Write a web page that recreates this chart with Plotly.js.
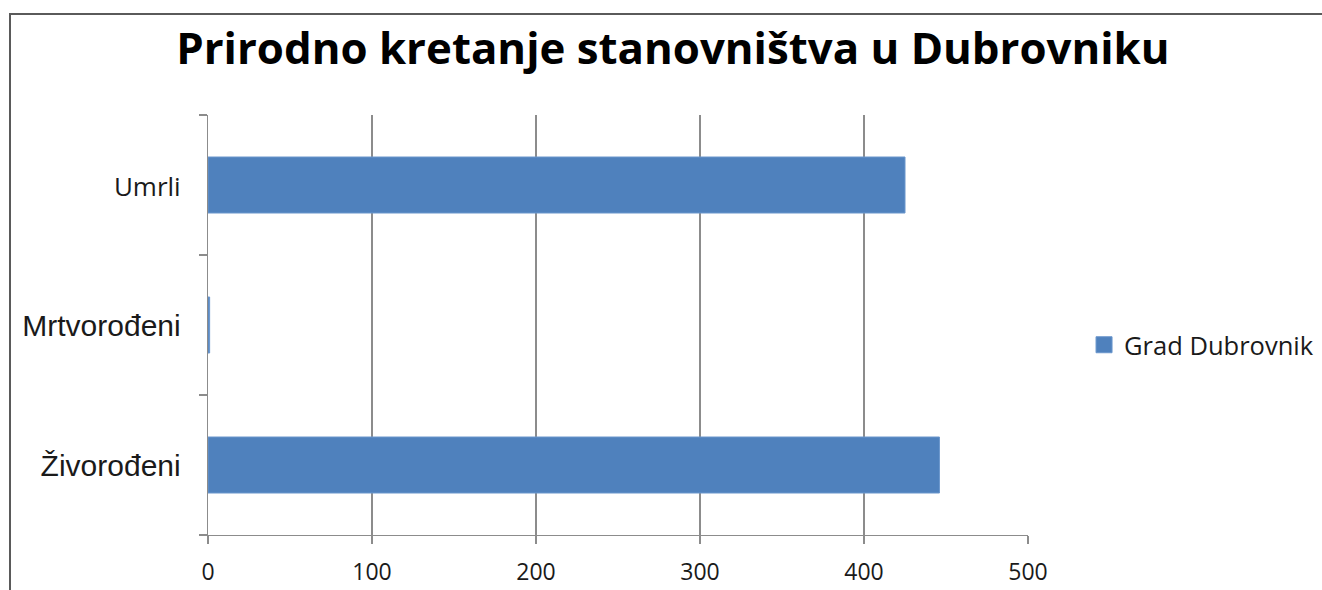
<!DOCTYPE html>
<html>
<head>
<meta charset="utf-8">
<script src="https://cdn.plot.ly/plotly-3.0.1.min.js"></script>
<style>
  html, body { margin: 0; padding: 0; background: #ffffff; }
  #chart { width: 1322px; height: 590px; position: relative; }
  #frame { position: absolute; left: 9px; top: 13px; width: 1320px; height: 620px;
           border: 2px solid #5a5a5a; box-sizing: border-box; pointer-events: none; }
</style>
</head>
<body>
<div style="position:relative;width:1322px;height:590px;overflow:hidden;">
  <div id="chart"></div>
  <div id="frame"></div>
</div>
<script>
const categories = ["Živorođeni", "Mrtvorođeni", "Umrli"];
const categoryLabels = [
  '<span style="font-family:Liberation Sans;font-size:30px">Živorođeni</span>',
  '<span style="font-family:Liberation Sans;font-size:30px">Mrtvorođeni</span>',
  '<span style="font-family:Open Sans;font-size:26px">Umrli</span>'
];
const seriesName = "Grad Dubrovnik";
const values = [446, 1, 425];
const xTickVals = [0, 100, 200, 300, 400, 500];
const barColor = "#4f81bd";

const bars = {
  type: "bar",
  orientation: "h",
  name: seriesName,
  y: categories,
  x: values,
  marker: { color: barColor, line: { color: "#6a96cc", width: 1 } },
  showlegend: false,
  hoverinfo: "x+y"
};

// legend entry only (larger square swatch like the original)
const legendEntry = {
  type: "scatter",
  mode: "markers",
  name: seriesName,
  x: [null],
  y: [null],
  marker: { symbol: "square", size: 17, color: barColor, line: { color: "#6a96cc", width: 1 } },
  showlegend: true,
  hoverinfo: "skip"
};

const layout = {
  width: 1322,
  height: 590,
  paper_bgcolor: "#ffffff",
  plot_bgcolor: "#ffffff",
  margin: { l: 208, r: 294, t: 115, b: 55, autoexpand: false },
  title: {
    text: "<b>Prirodno kretanje stanovništva u Dubrovniku</b>",
    font: { family: "Open Sans", size: 43.8, color: "#000000" },
    xref: "container", x: 0.509, xanchor: "center",
    yref: "container", y: 0.917, yanchor: "middle"
  },
  bargap: 0.6,
  xaxis: {
    range: [0, 500],
    tickmode: "array",
    tickvals: xTickVals,
    ticktext: xTickVals.map(String),
    showgrid: true,
    gridcolor: "#8c8c8c",
    gridwidth: 1.3,
    zeroline: false,
    showline: true,
    linecolor: "#8c8c8c",
    linewidth: 1.3,
    ticks: "outside",
    ticklen: 8,
    tickcolor: "#8c8c8c",
    tickwidth: 1.3,
    ticklabelstandoff: 8,
    tickfont: { family: "Open Sans", size: 23, color: "#1a1a1a" },
    fixedrange: true
  },
  yaxis: {
    type: "category",
    range: [-0.5, 2.5],
    tickmode: "array",
    tickvals: categories,
    ticktext: categoryLabels,
    tickson: "boundaries",
    showgrid: false,
    zeroline: false,
    showline: true,
    linecolor: "#8c8c8c",
    linewidth: 1.3,
    ticks: "outside",
    ticklen: 8,
    tickcolor: "#8c8c8c",
    tickwidth: 1.3,
    ticklabelstandoff: 20,
    tickfont: { family: "Liberation Sans", size: 30, color: "#1a1a1a" },
    fixedrange: true
  },
  legend: {
    xref: "container", x: 0.820, xanchor: "left",
    y: 0.452, yanchor: "middle",
    font: { family: "Open Sans", size: 25.5, color: "#1a1a1a" },
    bgcolor: "rgba(0,0,0,0)",
    itemwidth: 30
  }
};

Plotly.newPlot("chart", [bars, legendEntry], layout, { displayModeBar: false, staticPlot: true });
</script>
</body>
</html>
